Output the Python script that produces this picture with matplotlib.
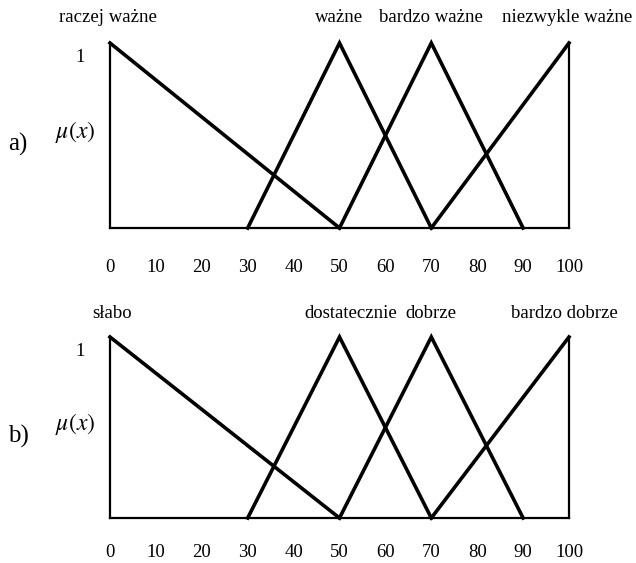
import matplotlib
matplotlib.use('Agg')
import matplotlib.pyplot as plt

plt.rcParams['font.family'] = ['Liberation Serif', 'DejaVu Serif']
plt.rcParams['mathtext.fontset'] = 'stix'

# x axis ticks shared by both panels
TICKS = [0, 10, 20, 30, 40, 50, 60, 70, 80, 90, 100]

# membership functions: breakpoints (x) and membership values (mu)
SETS_A = ['raczej ważne', 'ważne', 'bardzo ważne', 'niezwykle ważne']
SETS_B = ['słabo', 'dostatecznie', 'dobrze', 'bardzo dobrze']
SHAPE_X = [[0, 50], [30, 50, 70], [50, 70, 90], [70, 100]]
SHAPE_MU = [[1, 0], [0, 1, 0], [0, 1, 0], [0, 1]]

# label anchor positions along x for each panel
LABEL_X_A = [-0.5, 50, 70, 99.5]
LABEL_X_B = [0.5, 52.5, 70, 99]

FIG = plt.figure(figsize=(6.36, 5.63), dpi=100)


def draw_panel(rect, names, label_x, tag, pad, name_off):
    ax = FIG.add_axes(rect)
    ax.set_xlim(0, 100)
    ax.set_ylim(0, 1)
    for spine in ax.spines.values():
        spine.set_visible(False)
    # frame: baseline and the two vertical edges
    ax.plot([0, 100], [0, 0], color='black', lw=1.6, clip_on=False)
    ax.plot([0, 0], [0, 1], color='black', lw=1.6, clip_on=False)
    ax.plot([100, 100], [0, 1], color='black', lw=1.6, clip_on=False)
    for xs, mus in zip(SHAPE_X, SHAPE_MU):
        ax.plot(xs, mus, color='black', lw=2.6, clip_on=False,
                solid_joinstyle='miter')
    for name, lx in zip(names, label_x):
        ax.annotate(name, xy=(lx, 1), xytext=(0, name_off),
                    textcoords='offset points', annotation_clip=False,
                    ha='center', va='center', fontsize=13.5)
    ax.set_xticks(TICKS)
    ax.set_xticklabels([str(t) for t in TICKS], fontsize=13.5)
    ax.tick_params(axis='x', length=0, pad=pad)
    ax.set_yticks([])
    ax.text(-0.065, 0.92, '1', transform=ax.transAxes, ha='center',
            va='center', fontsize=13.5)
    ax.text(-0.075, 0.52, r'$\mu(x)$', transform=ax.transAxes, ha='center',
            va='center', fontsize=17)
    ax.text(-0.2, 0.45, tag, transform=ax.transAxes, ha='center',
            va='center', fontsize=18)
    return ax


draw_panel([110 / 636, 335 / 563, 459 / 636, 185 / 563], SETS_A, LABEL_X_A,
           'a)', 22, 18)
draw_panel([110 / 636, 45 / 563, 459 / 636, 181 / 563], SETS_B, LABEL_X_B,
           'b)', 19, 17)

FIG.savefig('out.png', dpi=100)
